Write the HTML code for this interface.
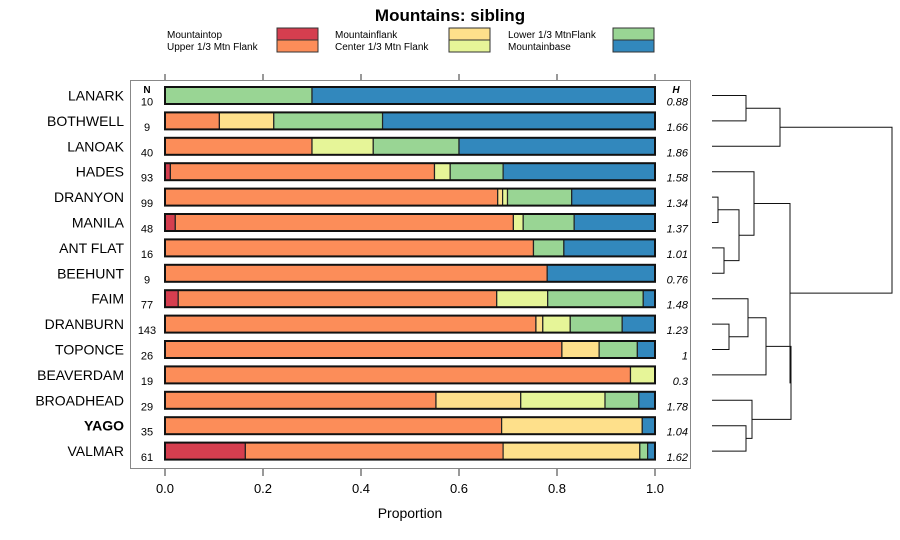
<!DOCTYPE html>
<html><head><meta charset="utf-8">
<style>
body{margin:0;background:#fff;}
svg{display:block;font-family:"Liberation Sans",sans-serif;}
</style></head>
<body>
<svg id="chart" width="900" height="540" viewBox="0 0 900 540" xmlns="http://www.w3.org/2000/svg">
<text x="450" y="21" text-anchor="middle" font-size="17" font-weight="bold">Mountains: sibling</text>
<g id="legend"></g>
<rect x="130.5" y="80.5" width="560" height="388" fill="none" stroke="#888" stroke-width="1"/>
<g id="bars"></g>
<g id="axis"></g>
<text x="410" y="518" text-anchor="middle" font-size="14">Proportion</text>
<text x="147" y="93" text-anchor="middle" font-size="10" font-weight="bold">N</text>
<text x="676" y="93" text-anchor="middle" font-size="10" font-weight="bold" font-style="italic">H</text>
<g id="dendro"></g>
</svg>
<script>
const categories=["Mountaintop","Upper 1/3 Mtn Flank","Mountainflank","Center 1/3 Mtn Flank","Lower 1/3 MtnFlank","Mountainbase"];
const colors=["#d53e4f","#fc8d59","#fee08b","#e6f598","#99d594","#3288bd"];
const sites=["LANARK","BOTHWELL","LANOAK","HADES","DRANYON","MANILA","ANT FLAT","BEEHUNT","FAIM","DRANBURN","TOPONCE","BEAVERDAM","BROADHEAD","YAGO","VALMAR"];
const nValues=[10,9,40,93,99,48,16,9,77,143,26,19,29,35,61];
const hValues=["0.88","1.66","1.86","1.58","1.34","1.37","1.01","0.76","1.48","1.23","1","0.3","1.78","1.04","1.62"];
const mountaintop=[0,0,0,0.011,0,0.021,0,0,0.027,0,0,0,0,0,0.164];
const upperFlank=[0,0.111,0.30,0.539,0.679,0.69,0.752,0.78,0.65,0.757,0.81,0.95,0.553,0.687,0.526];
const mountainflank=[0,0.111,0,0,0.01,0,0,0,0,0.014,0.076,0,0.173,0.287,0.279];
const centerFlank=[0,0,0.125,0.032,0.01,0.02,0,0,0.104,0.056,0,0.05,0.172,0,0];
const lowerFlank=[0.30,0.222,0.175,0.108,0.131,0.104,0.062,0,0.195,0.106,0.078,0,0.069,0,0.016];
const mountainbase=[0.70,0.556,0.40,0.31,0.17,0.165,0.186,0.22,0.024,0.067,0.036,0,0.033,0.026,0.015];
const xTicks=[0,0.2,0.4,0.6,0.8,1.0];
const xTickLabels=["0.0","0.2","0.4","0.6","0.8","1.0"];
// dendrogram merges: [left, right, height]; negative = leaf index (-(i+1)), positive = merge index (1-based)
const merges=[[-1,-2,34],[1,-3,68],[-5,-6,6],[-7,-8,12],[3,4,27],[-4,5,42],[-10,-11,17],[-9,7,36],[8,-12,54],[-14,-15,34],[-13,10,40],[9,11,79],[6,12,78],[2,13,180]];

const NS="http://www.w3.org/2000/svg";
function mk(tag,attrs,parent){const e=document.createElementNS(NS,tag);for(const k in attrs)e.setAttribute(k,attrs[k]);parent.appendChild(e);return e;}
const x0=165,x1=655;
const xs=v=>x0+v*(x1-x0);
const rowY=i=>95.5+i*25.4;
const barH=17;
const series=[mountaintop,upperFlank,mountainflank,centerFlank,lowerFlank,mountainbase];

const bars=document.getElementById('bars');
sites.forEach((s,i)=>{
  const y=rowY(i);
  const lab=mk('text',{x:124,y:y+5,'text-anchor':'end','font-size':14,'font-weight':s==="YAGO"?"bold":"normal"},bars);
  lab.textContent=s;
  
  
  const nt=mk('text',{x:147,y:y+10,'text-anchor':'middle','font-size':11},bars);
  nt.textContent=nValues[i];
  
  
  const ht=mk('text',{x:688,y:y+10,'text-anchor':'end','font-size':11,'font-style':'italic'},bars);
  ht.textContent=hValues[i];
  
  
  let cum=0;
  series.forEach((arr,k)=>{
    const v=arr[i];
    if(v>0){
      const r=mk('rect',{x:xs(cum),y:y-barH/2,width:xs(cum+v)-xs(cum),height:barH,fill:colors[k],stroke:'#222','stroke-width':1.2},bars);
      
      
    }
    cum+=v;
  });
  const o=mk('rect',{x:xs(0),y:y-barH/2,width:xs(cum)-xs(0),height:barH,fill:'none',stroke:'#111','stroke-width':2},bars);
  
  
});

const ax=document.getElementById('axis');
xTicks.forEach((t,i)=>{
  const x=xs(t);
  const a=mk('line',{x1:x,x2:x,y1:469,y2:476,stroke:'#333'},ax);
  
  
  const b=mk('line',{x1:x,x2:x,y1:74,y2:80,stroke:'#333'},ax);
  
  
  const l=mk('text',{x:x,y:493,'text-anchor':'middle','font-size':13},ax);
  l.textContent=xTickLabels[i];
  
  
});

const lg=document.getElementById('legend');
const lcols=[[167,277],[335,449],[508,613]];
categories.forEach((c,i)=>{
  const col=Math.floor(i/2),row=i%2;
  const y=28+row*12;
  const t=mk('text',{x:lcols[col][0],y:y+10,'font-size':10},lg);
  t.textContent=c;
  
  
  const r=mk('rect',{x:lcols[col][1],y:y,width:41,height:12,fill:colors[i],stroke:'#333','stroke-width':1},lg);
  
  
});

const dg=document.getElementById('dendro');
const leafX=712;
const info=[];
function node(id){
  if(id<0){return {x:leafX,y:rowY(-id-1)};}
  return info[id-1];
}
merges.forEach(m=>{
  const a=node(m[0]),b=node(m[1]);
  const hx=leafX+m[2];
  const p=mk('path',{d:`M${a.x},${a.y}H${hx}V${b.y}H${b.x}`,fill:'none',stroke:'#111','stroke-width':1},dg);
  
  
  info.push({x:hx,y:(a.y+b.y)/2});
});
</script>
</body></html>
